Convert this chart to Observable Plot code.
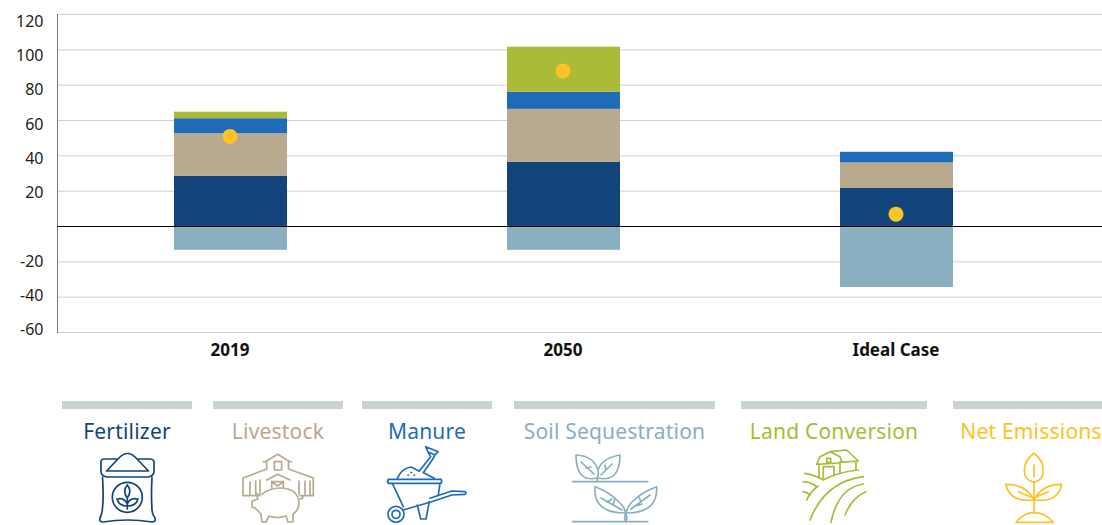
<!DOCTYPE html>
<html><head><meta charset="utf-8">
<script src="https://cdn.jsdelivr.net/npm/d3@7"></script>
<script src="https://cdn.jsdelivr.net/npm/@observablehq/plot@0.6"></script>
<style>
html,body{margin:0;padding:0;background:#fff;overflow:hidden;width:1102px;height:525px}
#wrap{position:relative;width:1102px;height:525px;overflow:hidden}
#chart svg{display:block}
.bar{position:absolute;top:401px;height:8px;background:#c8d3d2}
.lab{position:absolute;top:416px;font:21px/30px "Noto Sans",sans-serif;text-align:center;white-space:nowrap;letter-spacing:.2px}
#icons{position:absolute;left:0;top:0}
#icons path,#icons circle,#icons rect{fill:none;stroke-width:1.7;stroke-linecap:round;stroke-linejoin:round}
</style></head>
<body><div id="wrap"><div id="chart"></div></div>
<script>
const years = ["2019", "2050", "Ideal Case"];
const categories = ["Fertilizer", "Livestock", "Manure", "Land Conversion", "Soil Sequestration"];
const fertilizer = [28.5, 36.3, 21.5];
const livestock = [24, 30, 14.5];
const manure = [8.5, 9.7, 6];
const landConversion = [3.7, 25.5, 0];
const soilSequestration = [-13.5, -13.5, -34.5];
const netEmissions = [51, 88, 7];
const colors = {
  "Fertilizer": "#12447a", "Livestock": "#b8a98f", "Manure": "#1f6bb8",
  "Land Conversion": "#abba37", "Soil Sequestration": "#8aafc1", "Net Emissions": "#fdc325"
};
const gridTicks = [-60, -40, -20, 20, 40, 60, 80, 100, 120];
// the reference's tick labels sit slightly off their gridlines: value drawn, height it is printed at
const tickLabels = ["120", "100", "80", "60", "40", "20", "-20", "-40", "-60"];
const tickLabelAt = [116.1, 96.5, 77.1, 57.6, 38.4, 19.1, -20.1, -39.4, -58.6];
const legendItems = [
  ["Fertilizer", 62, 130], ["Livestock", 213, 130], ["Manure", 362, 130],
  ["Soil Sequestration", 514, 201], ["Land Conversion", 741, 186], ["Net Emissions", 953, 156]
];
const series = [fertilizer, livestock, manure, landConversion, soilSequestration];
const rows = categories.flatMap((c, i) => years.map((y, j) => ({year: y, category: c, value: series[i][j]})));
const net = years.map((y, j) => ({year: y, value: netEmissions[j]}));
const tickRows = tickLabels.map((t, i) => ({label: t, at: tickLabelAt[i]}));

const plot = Plot.plot({
  width: 1102, height: 375,
  marginLeft: 57, marginRight: 0, marginTop: 14, marginBottom: 43,
  style: {background: "transparent", fontFamily: "'Noto Sans',sans-serif"},
  x: {domain: years, range: [64, 1063], paddingInner: 0.66, paddingOuter: 0.33, label: null, tickSize: 0},
  y: {domain: [-60, 120], label: null, axis: null},
  color: {domain: Object.keys(colors), range: Object.values(colors)},
  marks: [
    Plot.ruleY(gridTicks, {stroke: "#cfcfcf", strokeWidth: 1}),
    Plot.frame({anchor: "left", stroke: "#777", strokeWidth: 1}),
    Plot.barY(rows, Plot.stackY({order: categories, x: "year", y: "value", fill: "category"})),
    Plot.ruleY([0], {stroke: "#000", strokeWidth: 1}),
    Plot.dot(net, {x: "year", y: "value", r: 7.5, dx: -1, fill: colors["Net Emissions"], stroke: null}),
    Plot.text(tickRows, {y: "at", text: "label", frameAnchor: "left", textAnchor: "end", dx: -14, fontSize: 16, fill: "#1c1c1c"}),
    Plot.axisX({tickSize: 0, tickPadding: 11, dx: -1, fontSize: 17, fontWeight: 700, fill: "#111", label: null})
  ]
});
document.getElementById("chart").appendChild(plot);

const wrap = document.getElementById("wrap");
legendItems.forEach(([name, left, w]) => {
  const b = document.createElement("div"); b.className = "bar";
  b.style.left = left + "px";
  b.style.width = (name === "Net Emissions" ? 149 : w) + "px";
  wrap.appendChild(b);
  const t = document.createElement("div"); t.className = "lab"; t.textContent = name;
  t.style.left = left + "px"; t.style.width = w + "px"; t.style.color = colors[name];
  wrap.appendChild(t);
});
const icons = {
 "Fertilizer": `<path d="M117 459H104Q100 459 101 465V471Q101 476 107 477H148Q154 476 154 471V465Q155 459 150 459H138"/>
  <path d="M106.500 471L118 459Q127.500 448 137 459L148.500 471Z"/>
  <path d="M102.500 477Q104 500 102 512Q101 516 100 518Q99 522 103 522Q128 518 152 522Q156 522 155 518Q152 514 152 510Q151 495 152 477"/>
  <circle cx="127.300" cy="497.300" r="15"/>
  <path d="M127.300 509V497M127.300 485Q122 491 127.300 498Q132.500 491 127.300 485M127.300 506Q119 506 117 499Q124 497 127.300 504Q130 497 138 499Q136 506 127.300 506"/>`,
 "Livestock": `<path d="M243 478L266.700 469V461L277.700 454.300L288.500 461V469L313.300 478M263.300 462L266.700 461M288.500 461L291.700 462M243 478V495.700H260M313.300 478V495.700H300"/>
  <rect x="274.300" y="461.700" width="7.300" height="8.300"/>
  <path d="M266.700 480L277.700 474.300L290 480M271.700 488V481.700H283.300V488M271.700 481.700L277.500 486L283.300 481.700M250 482V495M255.700 481V495M260 480V492M299 481V494M305 481V495M310 481V495"/>
  <path d="M262 494Q270 488 280 488Q298 488 299 503Q299 510 293 514L293 522H288L286 516Q277 519 269 516L266 522H262L261 514Q257 510 255 508L252 507V501Q256 500 258 499L256 494ZM300 499Q303 499 303 496"/>`,
 "Manure": `<path d="M388.500 479.300H441Q442.500 481.300 441 483.300H388.500Q386.500 481.300 388.500 479.300Z"/>
  <path d="M392.300 483.300L403.300 506.700M440 483.300L438.300 495"/>
  <path d="M397.300 478.300Q402 468 411 467L419 471M424 473L434.300 478.300"/>
  <path d="M419.300 471L430.700 456.700M423.300 472.700L433.300 458.300M430.700 456.700L428 452M433.300 458.300L435 455M425.700 446.700L438.300 451.700L435 455L428 452L425.700 446.700Z"/>
  <path d="M430 498.300L451.700 491L465 491.700Q467 493 465 494.300L451.700 495L431.700 501.700M431.700 501.700L403 510"/>
  <circle cx="396" cy="514.300" r="8"/><circle cx="396" cy="514.300" r="4"/>
  <path d="M417.300 505L420.700 519H426L429.300 501.700"/>
  <path d="M411 472.500L411.500 472.500M414 475L414.500 475M408 475L408.500 475"/>`,
 "Soil Sequestration": `<path d="M572.700 481.700H647.700M572.700 521.700H647.700"/>
  <path d="M597.300 478Q576 483 576 455Q594 456 598 470Q599 474 597.300 478ZM597.300 478Q620 483 620 455Q602 458 598 470M597.300 478V481M581 462L594 474M586 468L591 467M612 464L601 475M606 470L605 465"/>
  <path d="M625 513Q593 513 595 486.700Q610 492 620 503Q626 509 625 513ZM626.500 513Q658 513 656.700 486.700Q641 492 631 503Q626 509 626.500 513ZM625.700 513L624.500 518L625.700 521.700L627 518L625.700 513M601 498L622 510M607 502L612 499M613 505L615 499M650 495L631 509M641 502L639 497M636 506L642 504"/>`,
 "Land Conversion": `<path d="M816.700 464.300L820 456.700L830 451.700L840 456.700L841.700 461.700L838 463L816.700 464.300M830 451.700L846.700 450L858.300 461L840 462.300M819 465V478M840 463V473M856 461.700V470M823.300 478V466.700H834V475"/>
  <rect x="826.700" y="458.300" width="4" height="4"/>
  <path d="M805 473.300Q815 475 823.300 480Q838 472 858.300 470M803.300 481.700Q811 482 816.700 486.700M803 491.700Q807 492 810 495M806.700 500Q810 492 818 486M810 520Q825 481.700 863.300 476.700M831 522.300Q838 488 863.300 484M845 515Q851.700 498 865.700 491.700"/>`,
 "Net Emissions": `<path d="M1034 453.300Q1024.300 460 1024.300 471Q1024.300 480 1034 482.300Q1043.300 480 1043.300 471Q1043.300 460 1034 453.300ZM1034 465V476.700M1034 482.300V512"/>
  <path d="M1034 500Q1026 484 1005.700 484.300Q1010 503 1034 500Q1058 503 1061.700 484.300Q1042 484 1034 500M1018.300 491.700L1030 496.700M1048.300 491.700L1036.700 496.700"/>
  <path d="M1016 522.300Q1024 512.700 1034 512.700Q1045 512.700 1053.300 522.300Z"/>`
};
const svgNS = "http://www.w3.org/2000/svg";
const iconSvg = document.createElementNS(svgNS, "svg");
iconSvg.id = "icons"; iconSvg.setAttribute("width", 1102); iconSvg.setAttribute("height", 525);
iconSvg.innerHTML = Object.entries(icons).map(([k, v]) => `<g style="stroke:${colors[k]}">${v}</g>`).join("");
wrap.appendChild(iconSvg);
</script></body></html>
